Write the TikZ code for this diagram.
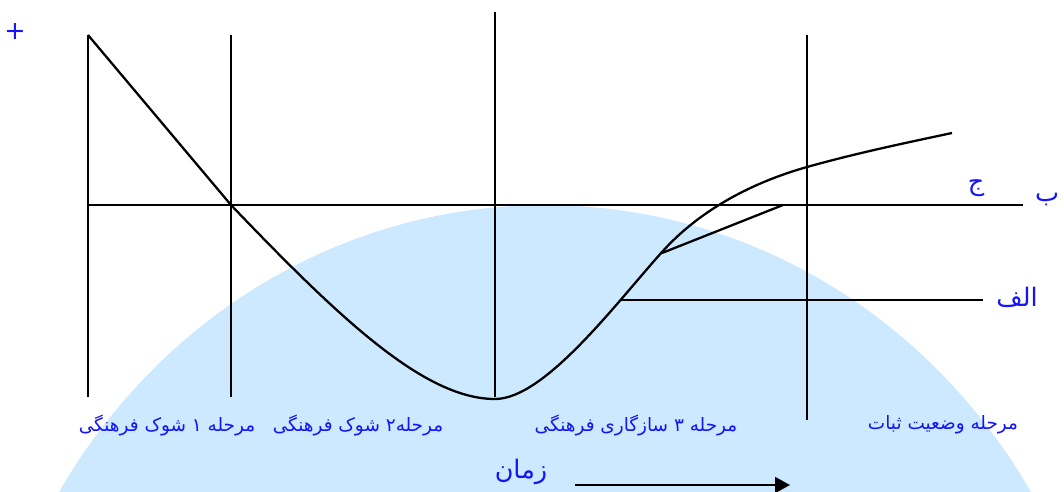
\documentclass[tikz,border=0pt]{standalone}
\usepackage{fontspec}
\newfontfamily\arabicfont[Script=Arabic]{DejaVu Sans}
\TeXXeTstate=1
\usetikzlibrary{arrows.meta,positioning}
\definecolor{domeblue}{RGB}{204,233,255}
\definecolor{labelblue}{RGB}{20,20,245}

\begin{document}
\begin{tikzpicture}[
    x=0.02cm, y=-0.02cm,
    axis/.style={line width=1.3pt, draw=black},
    curve/.style={line width=1.3pt, draw=black},
    stage/.style={text=labelblue, font=\arabicfont\fontsize{10.5}{12}\selectfont, inner sep=0pt},
    sign/.style={text=labelblue, font=\arabicfont\fontsize{14.5}{16}\selectfont, inner sep=0pt},
    timearrow/.style={-{Triangle[length=8.5pt,width=9pt]}, line width=1.3pt},
]
\useasboundingbox (0,0) rectangle (1064,491);

% Background dome
\begin{scope}
  \clip (0,0) rectangle (1064,491);
  \fill[domeblue] (545,794) ellipse [x radius=11.32cm, y radius=11.78cm];
\end{scope}

% Stage borders
\draw[axis] (88,35) -- (88,397);
\draw[axis] (231,35) -- (231,397);
\draw[axis] (495,12) -- (495,397);
\draw[axis] (807,35) -- (807,420);
\draw[axis] (88,205) -- (1023,205);

% Adjustment curve
\draw[curve] (88,35) -- (231,205)
  .. controls (341,320) and (425,399) .. (495,399)
  .. controls (545,399) and (617,302) .. (662,252)
  .. controls (697,213) and (747,184) .. (807,167)
  .. controls (857,153) and (905,143) .. (952,133);
\draw[axis] (662,253) -- (783,205);
\draw[axis] (620,300) -- (983,300);

% Labels
\node[sign] (plus) at (15,32) {+};
\node[sign] (jim) at (976,188) {\beginR ج\endR};
\node[sign] (be) at (1047,200) {\beginR ب\endR};
\node[sign] (alef) at (1017,297) {\beginR الف\endR};

\node[stage] (stage1) at (167,425) {\beginR مرحله ۱ شوک فرهنگی\endR};
\node[stage] (stage2) at (358,425) {\beginR مرحله۲ شوک فرهنگی\endR};
\node[stage] (stage3) at (636,425) {\beginR مرحله ۳ سازگاری فرهنگی\endR};
\node[stage] (stable) at (943,425) {\beginR مرحله وضعیت ثبات\endR};

% Time axis
\node[sign] (time) at (521,472) {\beginR زمان\endR};
\coordinate (tstart) at (575,485);
\coordinate (tend) at (790,485);
\draw[timearrow] (tstart) -- (tend);

\end{tikzpicture}
\end{document}
